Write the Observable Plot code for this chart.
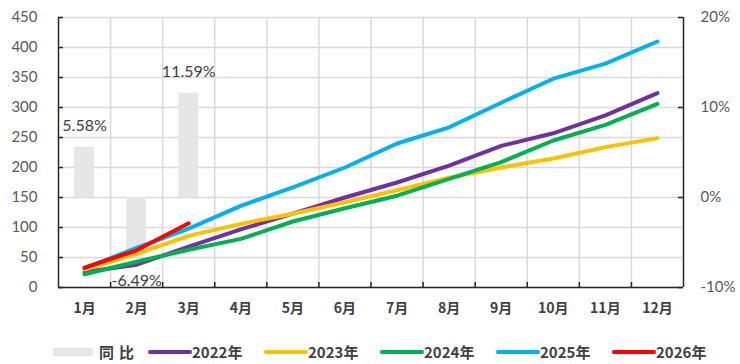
<!DOCTYPE html>
<html><head><meta charset="utf-8">
<script src="https://cdn.jsdelivr.net/npm/d3@7"></script>
<script src="https://cdn.jsdelivr.net/npm/@observablehq/plot@0.6"></script>
<style>
body{margin:0;background:#fff;width:740px;height:364px;overflow:hidden;position:relative;font-family:"Noto Sans CJK SC",sans-serif;}
#legend{position:absolute;left:53px;top:343px;height:18px;line-height:18px;display:flex;align-items:center;font-size:15px;font-weight:bold;color:#404040;white-space:nowrap;}
.sw{display:inline-block;flex:none;}
.item{display:flex;align-items:center;flex:none;height:18px;line-height:18px;}
.txt{display:block;height:18px;line-height:18px;}
</style></head><body><div id="chart"></div><div id="legend"></div>
<script>
const months = ["1月","2月","3月","4月","5月","6月","7月","8月","9月","10月","11月","12月"];
const names = ["2022年","2023年","2024年","2025年","2026年"];
const colors = ["#7030A0","#FFC000","#00B050","#00B0F0","#FF0000"];
const v2022 = [26,38,68,97,123,150,175,203,236,257,287,324];
const v2023 = [30,56,86,106,123,142,162,183,200,215,234,249];
const v2024 = [22,43,63,81,110,132,153,181,209,245,271,306];
const v2025 = [32,66,98,136,167,200,240,267,308,348,373,410];
const v2026 = [33,62,107];
const yoy = [5.58,-6.49,11.59];
const leftTicks = [0,50,100,150,200,250,300,350,400,450];
const rightTicks = [-10,0,10,20];

const seriesVals = [v2022,v2023,v2024,v2025,v2026];
const xDomain = [0.5, 12.5];
const yDomain = [0, 450];
const rDomain = [-10, 20];
const toLeft = p => yDomain[0] + (p - rDomain[0]) * (yDomain[1]-yDomain[0]) / (rDomain[1]-rDomain[0]);
const toRight = v => (v - yDomain[0]) * (rDomain[1]-rDomain[0]) / (yDomain[1]-yDomain[0]) + rDomain[0];
const zeroLeft = toLeft(0);
const lineData = seriesVals.flatMap((vals,k)=>vals.map((v,i)=>({m:i+1,v,name:names[k]})));
const barData = yoy.map((p,i)=>({m:i+1,p,v:toLeft(p)}));
const monthNums = months.map((_,i)=>i+1);
const bounds = d3.range(1.5, 12, 1);

const W = 740, H = 330, ML = 58, MR = 57, MT = 17, MB = 43;
const innerW = W - ML - MR, innerH = H - MT - MB, tick = 5;

const chart = Plot.plot({
  width:W, height:H, marginLeft:ML, marginRight:MR, marginTop:MT, marginBottom:MB,
  style:{fontFamily:"Lato, sans-serif", fontSize:"15px", color:"#595959", background:"#fff", overflow:"visible"},
  x:{type:"linear", domain:xDomain, label:null},
  y:{domain:yDomain, label:null},
  color:{domain:names, range:colors},
  marks:[
    Plot.gridY(leftTicks, {stroke:"#d9d9d9", strokeOpacity:1, strokeWidth:1.5}),
    Plot.gridX(bounds, {stroke:"#d9d9d9", strokeOpacity:1, strokeWidth:1.5}),
    Plot.rectY(barData, {x1:d=>d.m-0.19, x2:d=>d.m+0.19, y1:zeroLeft, y2:"v", fill:"#e6e6e6"}),
    Plot.text(barData.filter(d=>d.p>=0), {x:"m", y:"v", text:d=>d.p.toFixed(2)+"%", dy:-21, fontSize:16, fill:"#404040"}),
    Plot.text(barData.filter(d=>d.p<0), {x:"m", y:"v", text:d=>d.p.toFixed(2)+"%", dy:25, fontSize:16, fill:"#404040"}),
    Plot.line(lineData, {x:"m", y:"v", z:"name", stroke:"name", strokeWidth:4, strokeLinecap:"round", strokeLinejoin:"round"}),
    Plot.axisY(leftTicks, {anchor:"left", tickSize:0, tickPadding:21, fill:"#595959", label:null}),
    Plot.tickY(leftTicks, {y:d=>d, insetRight:innerW - tick, stroke:"#262626", strokeWidth:1.5}),
    Plot.axisY(rightTicks.map(toLeft), {anchor:"right", tickSize:0, tickPadding:17, tickFormat:v=>Math.round(toRight(v))+"%", fill:"#595959", label:null}),
    Plot.tickY(rightTicks.map(toLeft), {y:d=>d, insetLeft:innerW - tick, stroke:"#262626", strokeWidth:1.5}),
    Plot.axisX(monthNums, {tickSize:0, tickPadding:16, tickFormat:i=>months[i-1], fontFamily:"'Noto Sans CJK SC', sans-serif", fontSize:14, fontWeight:"bold", fill:"#404040", label:null}),
    Plot.tickX(bounds, {x:d=>d, insetTop:innerH - tick, stroke:"#262626", strokeWidth:1.5}),
    Plot.ruleX([xDomain[0], xDomain[1]], {stroke:"#262626", strokeWidth:1.5}),
    Plot.ruleY([yDomain[0]], {stroke:"#262626", strokeWidth:1.5})
  ]
});
document.getElementById("chart").appendChild(chart);

const legend = document.getElementById("legend");
const items = [{name:"同比", type:"bar", color:"#e6e6e6"}].concat(names.map((n,i)=>({name:n,type:"line",color:colors[i]})));
const itemWidths = [95, 116, 116, 116, 116, 110];
items.forEach((it,i)=>{
  const d = document.createElement("div"); d.className="item"; d.style.width = itemWidths[i]+"px";
  const s = document.createElement("span"); s.className="sw";
  if(it.type==="bar"){s.style.cssText=`width:40px;height:8px;background:${it.color};margin-right:6px;`;}
  else {s.style.cssText=`width:44px;height:4px;border-radius:2px;background:${it.color};`;}
  const t = document.createElement("span"); t.className="txt"; t.textContent=it.name;
  if(it.type==="bar") t.style.letterSpacing="5px";
  d.appendChild(s); d.appendChild(t); legend.appendChild(d);
});
</script></body></html>
